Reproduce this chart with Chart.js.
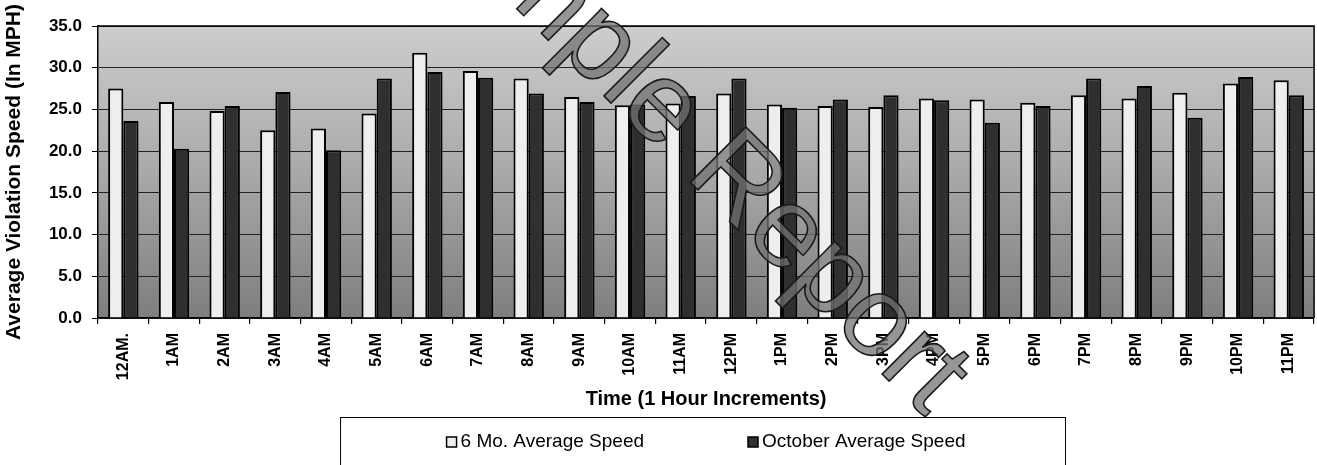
<!DOCTYPE html>
<html>
<head>
<meta charset="utf-8">
<script src="https://cdn.jsdelivr.net/npm/chart.js@4"></script>
<style>
  html, body { margin: 0; padding: 0; background: #fff; }
  #wrap { position: relative; width: 1317px; height: 465px; }
</style>
</head>
<body>
<div id="wrap"><canvas id="speedChart"></canvas></div>
<script>
/* Hours of the day (x axis) */
const hourLabels = ["12AM.", "1AM", "2AM", "3AM", "4AM", "5AM", "6AM", "7AM", "8AM", "9AM", "10AM", "11AM",
  "12PM", "1PM", "2PM", "3PM", "4PM", "5PM", "6PM", "7PM", "8PM", "9PM", "10PM", "11PM"];

/* Average violation speed, 6 month average */
const sixMonthSpeed = [27.5, 25.9, 24.8, 22.5, 22.7, 24.5, 31.8, 29.6, 28.7, 26.5, 25.5, 25.7,
  26.9, 25.6, 25.4, 25.3, 26.3, 26.2, 25.8, 26.7, 26.3, 27.0, 28.1, 28.5];

/* Average violation speed, October */
const octoberSpeed = [23.6, 20.3, 25.4, 27.1, 20.1, 28.7, 29.5, 28.8, 26.9, 25.9, 25.6, 26.6,
  28.7, 25.2, 26.2, 26.7, 26.1, 23.4, 25.4, 28.7, 27.8, 24.0, 28.9, 26.7];

/* Y axis range */
const speedMin = 0;
const speedMax = 35;
const speedStep = 5;

const FONT = "'Liberation Sans', Arial, sans-serif";

/* Gradient fill behind the bars, plus the top/right frame */
const plotBackground = {
  id: "plotBackground",
  beforeDraw(chart) {
    const { ctx, chartArea } = chart;
    const grad = ctx.createLinearGradient(0, chartArea.top, 0, chartArea.bottom);
    grad.addColorStop(0, "#cdcdcd");
    grad.addColorStop(0.5, "#a9a9a9");
    grad.addColorStop(1, "#7e7e7e");
    ctx.save();
    ctx.fillStyle = grad;
    ctx.fillRect(chartArea.left, chartArea.top, chartArea.right - chartArea.left, chartArea.bottom - chartArea.top);
    ctx.restore();
  },
  afterDraw(chart) {
    const { ctx, chartArea } = chart;
    ctx.save();
    ctx.strokeStyle = "#000";
    ctx.lineWidth = 1.5;
    ctx.beginPath();
    ctx.moveTo(chartArea.left, chartArea.top);
    ctx.lineTo(chartArea.right, chartArea.top);
    ctx.lineTo(chartArea.right, chartArea.bottom);
    ctx.stroke();
    ctx.restore();
  }
};

/* Boxed legend under the axis title */
const boxedLegend = {
  id: "boxedLegend",
  afterDraw(chart) {
    const { ctx, chartArea } = chart;
    const sets = chart.data.datasets;
    const square = 10;
    const gapText = 4;
    const gapItems = 104;
    const textY = 442;
    ctx.save();
    ctx.font = "19px " + FONT;
    const widths = sets.map(ds => square + gapText + ctx.measureText(ds.label).width);
    const total = widths.reduce((a, b) => a + b, 0) + gapItems * (sets.length - 1);
    const center = (chartArea.left + chartArea.right) / 2;
    let x = center - total / 2;

    /* frame */
    ctx.strokeStyle = "#000";
    ctx.lineWidth = 1;
    ctx.strokeRect(x - 106, 417.5, total + 206, 80);

    ctx.textBaseline = "middle";
    sets.forEach((ds, i) => {
      ctx.fillStyle = ds.backgroundColor;
      ctx.fillRect(x, textY - square / 2, square, square);
      ctx.strokeStyle = "#000";
      ctx.lineWidth = 1.5;
      ctx.strokeRect(x, textY - square / 2, square, square);
      ctx.fillStyle = "#000";
      ctx.fillText(ds.label, x + square + gapText, textY);
      x += widths[i] + gapItems;
    });
    ctx.restore();
  }
};

/* Diagonal "Sample Report" stamp across the page */
const stamp = {
  id: "stamp",
  afterDraw(chart) {
    const { ctx } = chart;
    ctx.save();
    ctx.translate(388, -120);
    ctx.rotate(Math.PI / 4);
    ctx.font = "114px " + FONT;
    ctx.textBaseline = "alphabetic";
    ctx.fillStyle = "rgba(115, 115, 115, 0.75)";
    ctx.fillText("Sample Report", 0, 0);
    ctx.strokeStyle = "#1a1a1a";
    ctx.lineWidth = 1.6;
    ctx.strokeText("Sample Report", 0, 0);
    ctx.restore();
  }
};

const ctx = document.getElementById("speedChart").getContext("2d");

new Chart(ctx, {
  type: "bar",
  data: {
    labels: hourLabels,
    datasets: [
      {
        label: "6 Mo. Average Speed",
        data: sixMonthSpeed,
        backgroundColor: "#eeeeee",
        borderColor: "#000",
        borderWidth: 2,
        borderSkipped: "bottom"
      },
      {
        label: "October Average Speed",
        data: octoberSpeed,
        backgroundColor: "#2f2f2f",
        borderColor: "#000",
        borderWidth: 2,
        borderSkipped: "bottom"
      }
    ]
  },
  options: {
    responsive: true,
    maintainAspectRatio: false,
    animation: false,
    layout: { padding: { top: 26, right: 2, left: 0, bottom: 50 } },
    categoryPercentage: 0.6,
    barPercentage: 1.0,
    plugins: {
      legend: { display: false },
      tooltip: { enabled: false }
    },
    scales: {
      x: {
        grid: { offset: true, drawOnChartArea: false, tickLength: 6, color: "#000", lineWidth: 1.2 },
        border: { color: "#000", width: 1.5 },
        ticks: {
          autoSkip: false,
          minRotation: 90,
          maxRotation: 90,
          padding: 9,
          color: "#000",
          font: { family: FONT, size: 16, weight: "bold" }
        },
        title: {
          display: true,
          text: "Time (1 Hour Increments)",
          color: "#000",
          font: { family: FONT, size: 20, weight: "bold" },
          padding: { top: 0, bottom: 4 }
        },
        afterFit(scale) {
          scale.height = 97;
        }
      },
      y: {
        min: speedMin,
        max: speedMax,
        grid: { color: "#222", lineWidth: 1, tickLength: 6, tickColor: "#000" },
        border: { color: "#000", width: 1.5 },
        ticks: {
          stepSize: speedStep,
          padding: 10,
          color: "#000",
          font: { family: FONT, size: 17, weight: "bold" },
          callback: v => Number(v).toFixed(1)
        },
        title: {
          display: true,
          text: "Average Violation Speed (In MPH)",
          color: "#000",
          font: { family: FONT, size: 21, weight: "bold" },
          padding: { top: 2, bottom: 0 }
        },
        afterFit(scale) {
          scale.width = 98;
        }
      }
    }
  },
  plugins: [plotBackground, boxedLegend, stamp]
});
</script>
</body>
</html>
